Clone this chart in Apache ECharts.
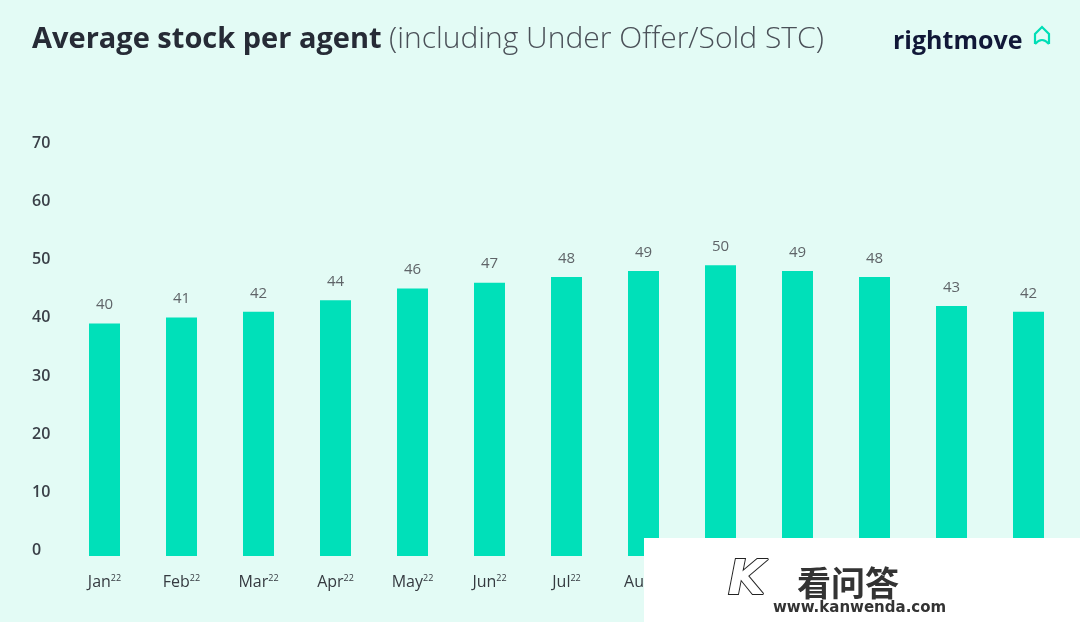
<!DOCTYPE html>
<html>
<head>
<meta charset="utf-8">
<script src="https://cdn.jsdelivr.net/npm/echarts@6/dist/echarts.min.js"></script>
<style>
html,body{margin:0;padding:0;background:#e3fbf5;}
#c{width:1080px;height:622px;}
</style>
</head>
<body>
<div id="c"></div>
<script>
const months = ['Jan','Feb','Mar','Apr','May','Jun','Jul','Aug','Sep','Oct','Nov','Dec','Jan'];
const years  = ['22','22','22','22','22','22','22','22','22','22','22','22','23'];
const values = [40,41,42,44,46,47,48,49,50,49,48,43,42];
const yTicks = [0,10,20,30,40,50,60,70];

const categories = months.map((m, i) => m + '|' + years[i]);

const chart = echarts.init(document.getElementById('c'));
const font = '"Open Sans", Lato, sans-serif';
chart.setOption({
  backgroundColor: '#e3fbf5',
  animation: false,
  grid: {left: 66, right: 13, top: 149, bottom: 66},
  xAxis: {
    type: 'category',
    data: categories,
    axisLine: {show: false},
    axisTick: {show: false},
    axisLabel: {
      margin: 18,
      interval: 0,
      formatter: v => { const p = v.split('|'); return '{m|' + p[0] + '}{s|' + p[1] + '}'; },
      rich: {
        m: {fontFamily: font, fontSize: 16, color: '#353a40'},
        s: {fontFamily: font, fontSize: 9, color: '#353a40', verticalAlign: 'top', padding: [0,0,8,0]}
      }
    }
  },
  yAxis: {
    type: 'value',
    min: 0, max: 70, interval: 10,
    splitLine: {show: false},
    axisLine: {show: false},
    axisTick: {show: false},
    axisLabel: {
      align: 'left', margin: 34, verticalAlign: 'bottom', lineHeight: 11,
      fontFamily: font, fontSize: 16, color: '#3a4048', fontWeight: 600,
      formatter: v => yTicks.includes(v) ? String(v) : ''
    }
  },
  series: [{
    type: 'bar',
    data: values,
    barWidth: 31,
    itemStyle: {color: '#00e0b9'},
    label: {
      show: true, position: 'top', distance: 11,
      fontFamily: font, fontSize: 15, color: '#5f6468'
    }
  }],
  graphic: [
    {type: 'text', left: 32, top: 25, style: {
      text: 'Average stock per agent', font: 'bold 29px ' + font, fill: '#262b36'}},
    {type: 'text', left: 389, top: 24, style: {
      text: '(including Under Offer/Sold STC)', font: '300 30px ' + font, fill: '#4a5058'}},
    {type: 'text', left: 893, top: 29, style: {
      text: 'rightmove', font: 'bold 25px ' + font, fill: '#111838'}},
    {type: 'polyline', shape: {points: [[1035,44],[1035,34],[1042,27],[1049,34],[1049,44]]},
      style: {fill: 'none', stroke: '#00deb6', lineWidth: 2.2}},
    {type: 'bezierCurve', shape: {x1: 1035, y1: 44, x2: 1049, y2: 44, cpx1: 1042, cpy1: 36},
      style: {fill: 'none', stroke: '#00deb6', lineWidth: 2.2}},
    {type: 'rect', shape: {x: 644, y: 538, width: 436, height: 84}, style: {fill: '#ffffff'}, z: 100},
    {type: 'text', x: 728, y: 558, z: 101, style: {text: 'K', font: 'bold italic 48px "DejaVu Sans", sans-serif', fill: '#ffffff', stroke: '#222', lineWidth: 2}},
    {type: 'text', x: 797, y: 566, z: 101, style: {text: '看问答', font: 'bold 34px "Noto Sans CJK SC", sans-serif', fill: '#333333'}},
    {type: 'text', x: 773, y: 601, z: 101, style: {text: 'www.kanwenda.com', font: 'bold 15px "DejaVu Sans", sans-serif', fill: '#333333'}}
  ]
});
</script>
</body>
</html>
